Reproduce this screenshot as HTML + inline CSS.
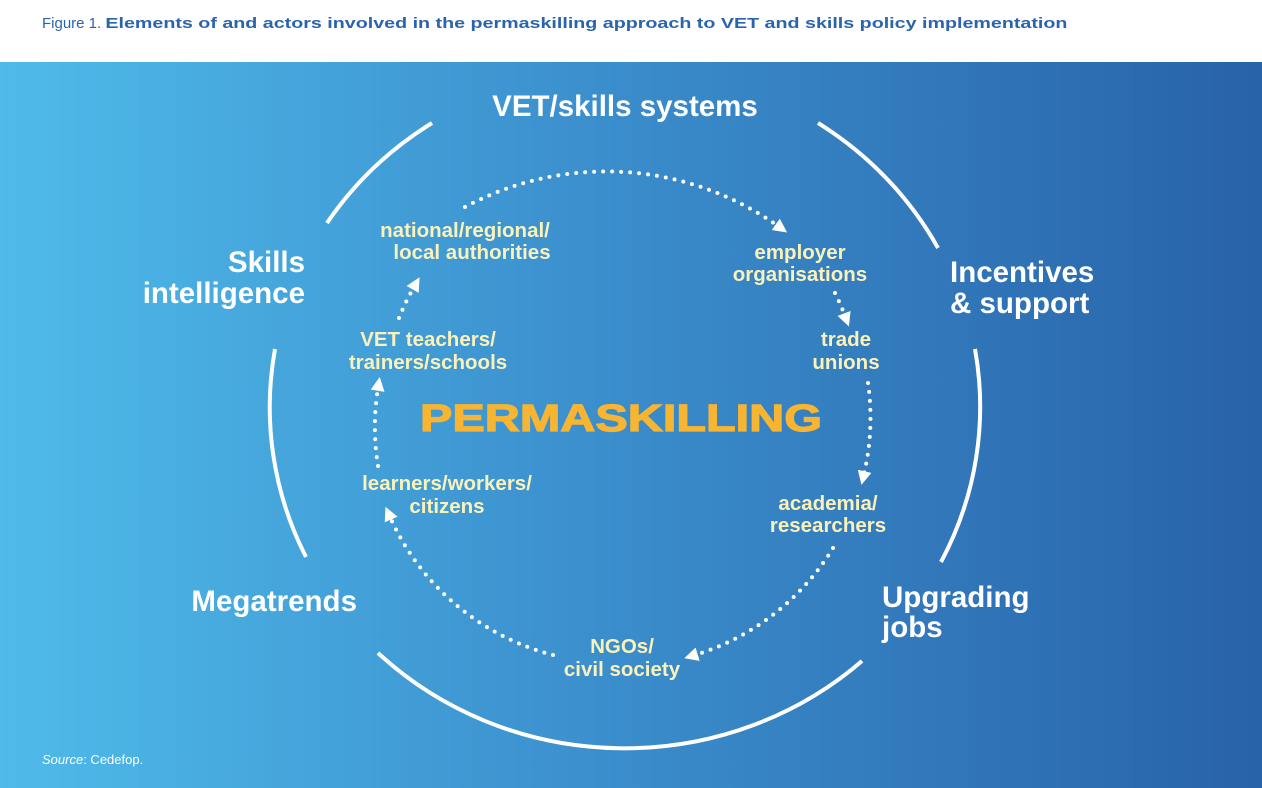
<!DOCTYPE html>
<html><head><meta charset="utf-8"><style>
html,body{margin:0;padding:0;background:#fff;}
svg{display:block;}
text{font-family:"Liberation Sans",Arial,sans-serif;font-weight:bold;}
</style></head><body>
<svg width="1262" height="788" viewBox="0 0 1262 788" xmlns="http://www.w3.org/2000/svg">
<defs>
<linearGradient id="bg" x1="0" y1="0" x2="1" y2="0">
<stop offset="0" stop-color="#4fbbea"/>
<stop offset="0.5" stop-color="#3a8ccb"/>
<stop offset="1" stop-color="#2862a8"/>
</linearGradient>
<marker id="ah" viewBox="0 0 10 10" refX="2" refY="5" markerWidth="14" markerHeight="14" orient="auto" markerUnits="userSpaceOnUse">
<path d="M0,0 L10,5 L0,10 z" fill="#fff"/>
</marker>
</defs>
<rect x="0" y="0" width="1262" height="788" fill="#fff"/>
<text x="42" y="28" font-size="15" fill="#2a64ad"><tspan font-weight="normal" style="font-weight:normal">Figure 1. </tspan><tspan textLength="962" lengthAdjust="spacingAndGlyphs">Elements of and actors involved in the permaskilling approach to VET and skills policy implementation</tspan></text>
<rect x="0" y="62" width="1262" height="726" fill="url(#bg)"/>

<g fill="none" stroke="#fff" stroke-width="4" stroke-linecap="butt">
<path d="M327,223 A355 340 0 0 1 432,123"/>
<path d="M818,123 A355 340 0 0 1 938,248"/>
<path d="M975,349 A355 340 0 0 1 941,562"/>
<path d="M862,661 A355 340 0 0 1 378,653"/>
<path d="M306,557 A355 340 0 0 1 275,349"/>
</g>

<g fill="none" stroke="#fff" stroke-width="4" stroke-linecap="round" stroke-dasharray="0 9" marker-end="url(#ah)">
<path d="M465,207 A298 298 0 0 1 778,226"/>
<path d="M835,293 A246 246 0 0 1 845,316"/>
<path d="M868,383 A246 246 0 0 1 864,474"/>
<path d="M833,548 A246 246 0 0 1 695,655"/>
<path d="M553,655 A246 246 0 0 1 390,517"/>
<path d="M378,466 A246 246 0 0 1 378,388"/>
<path d="M399,318 A246 246 0 0 1 414,287"/>
</g>

<g fill="#fff" font-size="29.5">
<text x="625" y="116" text-anchor="middle">VET/skills systems</text>
<text x="305" y="272" text-anchor="end">Skills</text>
<text x="305" y="303" text-anchor="end">intelligence</text>
<text x="950" y="282">Incentives</text>
<text x="950" y="313">&amp; support</text>
<text x="882" y="607">Upgrading</text>
<text x="882" y="637">jobs</text>
<text x="357" y="611" text-anchor="end">Megatrends</text>
</g>

<g fill="#fbf2ba" font-size="20.5" text-anchor="middle">
<text x="465" y="237">national/regional/</text>
<text x="472" y="259">local authorities</text>
<text x="800" y="259">employer</text>
<text x="800" y="281">organisations</text>
<text x="846" y="346">trade</text>
<text x="846" y="369">unions</text>
<text x="428" y="346">VET teachers/</text>
<text x="428" y="369">trainers/schools</text>
<text x="447" y="490">learners/workers/</text>
<text x="447" y="513">citizens</text>
<text x="828" y="510">academia/</text>
<text x="828" y="532">researchers</text>
<text x="622" y="653">NGOs/</text>
<text x="622" y="676">civil society</text>
</g>

<text x="420" y="431" font-size="38" fill="#f7b532" textLength="402" lengthAdjust="spacingAndGlyphs" stroke="#f7b532" stroke-width="1.2">PERMASKILLING</text>

<text x="42" y="764" font-size="13" fill="#fff" style="font-weight:normal"><tspan font-style="italic">Source</tspan>: Cedefop.</text>
</svg>
</body></html>
